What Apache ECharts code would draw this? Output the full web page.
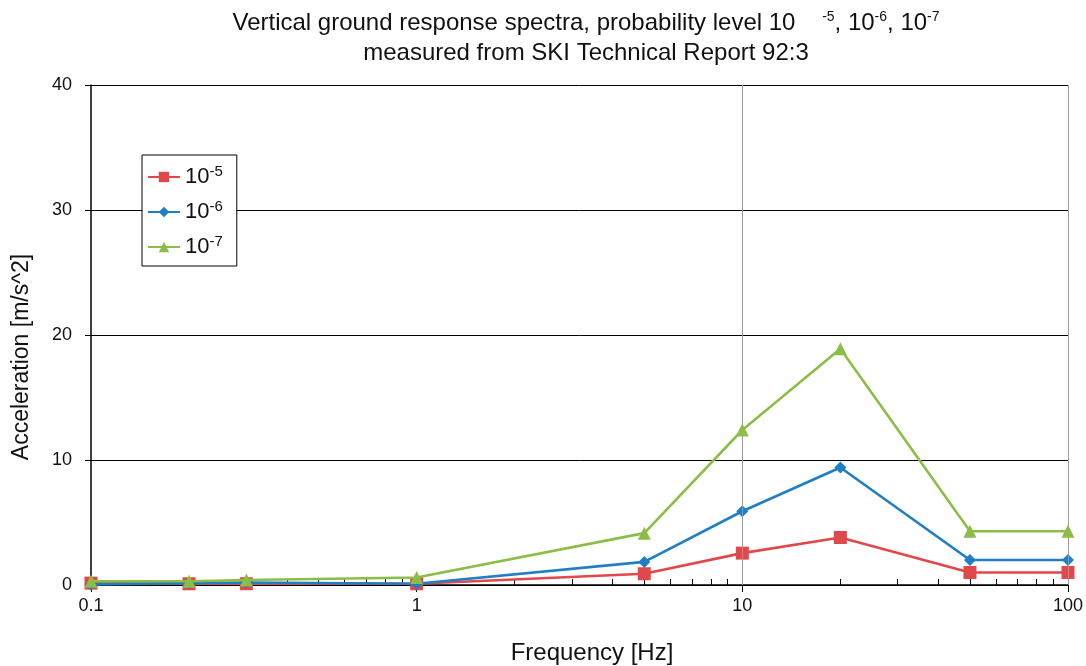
<!DOCTYPE html>
<html>
<head>
<meta charset="utf-8">
<script src="https://cdn.jsdelivr.net/npm/echarts@6/dist/echarts.min.js"></script>
<style>html,body{margin:0;padding:0;background:#fff}#c{width:1086px;height:666px}</style>
</head>
<body>
<div id="c"></div>
<script>
// ---- data ----
var freqs = [0.1, 0.2, 0.3, 1, 5, 10, 20, 50, 100];
var p5 = [0.15, 0.1, 0.1, 0.1, 0.9, 2.55, 3.8, 1.0, 1.0];
var p6 = [0.05, 0.15, 0.2, 0.1, 1.85, 5.9, 9.4, 2.0, 2.0];
var p7 = [0.3, 0.3, 0.4, 0.6, 4.15, 12.4, 18.9, 4.3, 4.3];
var seriesNames = ['10-5', '10-6', '10-7'];
var majorTicks = [0.1, 1, 10, 100];
var minorTicks = [0.1,0.2,0.3,0.4,0.5,0.6,0.7,0.8,0.9,1,2,3,4,5,6,7,8,9,10,20,30,40,50,60,70,80,90,100];
var yTicks = [0, 10, 20, 30, 40];

function pairs(ys){ return freqs.map(function(f,i){ return [f, ys[i]]; }); }

var FONT = '"Liberation Sans", Arial, sans-serif';
var chart = echarts.init(document.getElementById('c'));
var option = {
  animation: false,
  backgroundColor: '#fff',
  title: {
    left: 581, top: 3, textAlign: 'center',
    text: 'Vertical ground response spectra, probability level 10    {s|-5}, 10{s|-6}, 10{s|-7}\nmeasured from SKI Technical Report 92:3',
    textStyle: {
      fontFamily: FONT, fontSize: 24, fontWeight: 'normal', color: '#111', lineHeight: 30,
      rich: { s: { fontFamily: FONT, fontSize: 14, color: '#111', padding: [0,0,11,0] } }
    }
  },
  graphic: [{
    type: 'text', x: 22, y: 357, rotation: Math.PI / 2,
    style: { text: 'Acceleration [m/s^2]', fontFamily: FONT, fontSize: 23, fill: '#111',
      textAlign: 'center', textVerticalAlign: 'middle' }
  }, {
    type: 'text', x: 592, y: 653,
    style: { text: 'Frequency [Hz]', fontFamily: FONT, fontSize: 24, fill: '#111',
      textAlign: 'center', textVerticalAlign: 'middle' }
  }],
  legend: {
    left: 142, top: 155, orient: 'vertical',
    backgroundColor: '#fff', borderColor: '#000', borderWidth: 1,
    padding: [9, 14, 8, 5], itemGap: 11,
    itemWidth: 32, itemHeight: 13,
    data: seriesNames,
    formatter: function(n){ return '10{s|' + n.slice(2) + '}'; },
    textStyle: {
      fontFamily: FONT, fontSize: 22, color: '#111',
      rich: { s: { fontFamily: FONT, fontSize: 15, color: '#111', padding: [0,0,11,0] } }
    }
  },
  grid: { left: 91, right: 18, top: 85, bottom: 81, outerBoundsMode: 'none', containLabel: false },
  xAxis: [{
    type: 'log', logBase: 10, min: 0.1, max: 100,
    axisLine: { show: true, lineStyle: { color: '#000', width: 1.5 } },
    axisTick: { show: true, length: 7, customValues: majorTicks, lineStyle: { color: '#000' } },
    axisLabel: { fontFamily: FONT, fontSize: 18, color: '#111', margin: 12,
      customValues: majorTicks,
      formatter: function(v){ return String(v); } },
    splitLine: { show: false }, minorTick: { show: false }
  }, {
    type: 'log', logBase: 10, min: 0.1, max: 100, position: 'bottom',
    axisLine: { show: false },
    axisTick: { show: true, inside: true, length: 6, customValues: minorTicks, lineStyle: { color: '#000' } },
    axisLabel: { show: false }, splitLine: { show: false }
  }],
  yAxis: {
    type: 'value', min: 0, max: 40, interval: 10,
    axisLine: { show: true, lineStyle: { color: '#000', width: 1.5 } },
    axisTick: { show: true, length: 6, lineStyle: { color: '#000' } },
    axisLabel: { fontFamily: FONT, fontSize: 18, color: '#111', margin: 19 },
    splitLine: { show: true, lineStyle: { color: '#000', width: 1 } }
  },
  series: [{
    name: seriesNames[0], type: 'line', data: pairs(p5),
    color: '#e0484b', symbol: 'rect', symbolSize: 13,
    lineStyle: { width: 2.6 }, itemStyle: { color: '#e0484b' },
    markLine: {
      silent: true, symbol: 'none', label: { show: false },
      lineStyle: { color: '#9a9a9a', width: 1, type: 'solid' },
      data: [{ xAxis: 10 }, { xAxis: 100 }]
    }, z: 3
  }, {
    name: seriesNames[1], type: 'line', data: pairs(p6),
    color: '#1f7ec4', symbol: 'diamond', symbolSize: 12,
    lineStyle: { width: 2.6 }, itemStyle: { color: '#1f7ec4' }, z: 4
  }, {
    name: seriesNames[2], type: 'line', data: pairs(p7),
    color: '#8cbd47', symbol: 'triangle', symbolSize: 13,
    lineStyle: { width: 2.6 }, itemStyle: { color: '#8cbd47' }, z: 5
  }]
};
chart.setOption(option);
</script>
</body>
</html>
